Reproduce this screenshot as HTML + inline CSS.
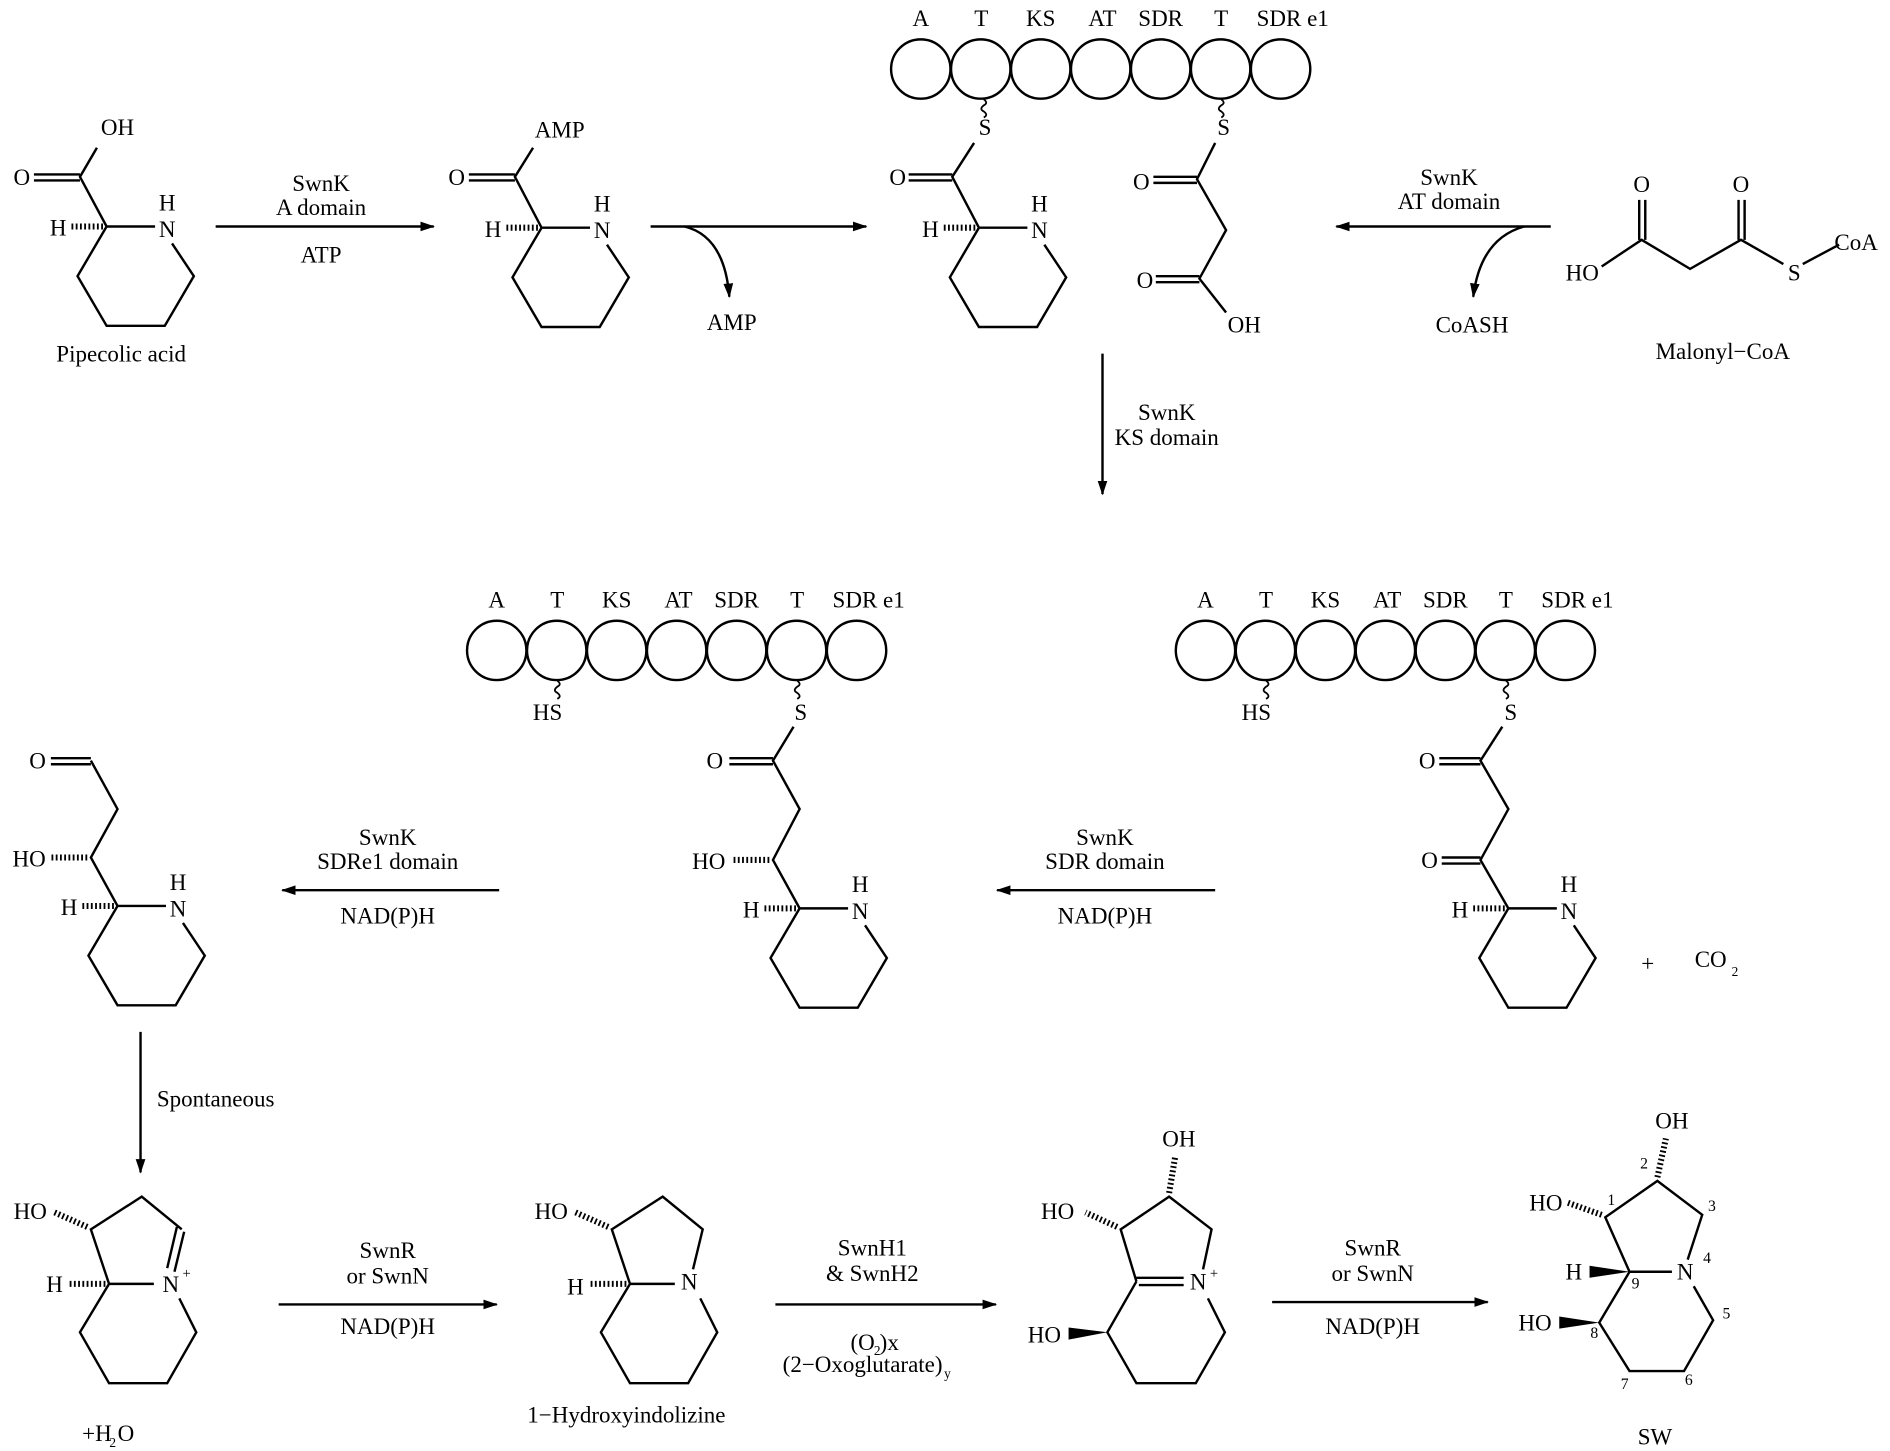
<!DOCTYPE html>
<html><head><meta charset="utf-8"><style>
html,body{margin:0;padding:0;background:#fff}
svg{display:block}
text{font-family:"Liberation Serif",serif;font-size:19px;fill:#000;text-anchor:middle;dominant-baseline:central}
.b{stroke:#000;stroke-width:2;fill:none}
.h{stroke:#000;stroke-width:5;stroke-dasharray:1.5,2;fill:none}
.c{stroke:#000;stroke-width:2;fill:none}
</style></head><body>
<svg width="1890" height="1451" viewBox="0 0 1560 1198" preserveAspectRatio="none">
<defs>
<marker id="ar" viewBox="0 0 12 8" refX="11" refY="4" markerWidth="12" markerHeight="8" markerUnits="userSpaceOnUse" orient="auto"><path d="M0,0 L12,4 L0,8 Z"/></marker>
<g id="pip">
<path class="b" d="M0,0 L40,0 M54,14 L72,41 L48,82 L0,82 L-24,41 L0,0"/>
<line class="h" x1="-3" y1="0" x2="-30" y2="0"/>
<text x="-40" y="1">H</text>
<text x="50" y="2">N</text>
<text x="50" y="-20">H</text>
</g>
<g id="circ">
<circle class="c" cx="0" cy="0" r="24.5"/><circle class="c" cx="49.5" cy="0" r="24.5"/><circle class="c" cx="99" cy="0" r="24.5"/><circle class="c" cx="148.5" cy="0" r="24.5"/><circle class="c" cx="198" cy="0" r="24.5"/><circle class="c" cx="247.5" cy="0" r="24.5"/><circle class="c" cx="297" cy="0" r="24.5"/>
<text x="0" y="-42">A</text><text x="50" y="-42">T</text><text x="99" y="-42">KS</text><text x="150" y="-42">AT</text><text x="198" y="-42">SDR</text><text x="248" y="-42">T</text><text x="307" y="-42">SDR e1</text>
</g>
<path id="wv" class="b" d="M0,0 q4,3 0,5 q-4,3 0,5 q4,3 0,5" style="stroke-width:1.5"/>
</defs>

<use href="#pip" x="88" y="187"/>
<path class="b" d="M88,187 L66,146 L80,122 M66,144 L28,144 M66,149 L28,149"/>
<text x="18" y="146">O</text><text x="97" y="105">OH</text>
<text x="100" y="292">Pipecolic acid</text>

<line class="b" x1="178" y1="187" x2="358" y2="187" marker-end="url(#ar)"/>
<text x="265" y="151">SwnK</text><text x="265" y="171">A domain</text><text x="265" y="210">ATP</text>

<use href="#pip" x="447" y="188"/>
<path class="b" d="M447,188 L425,146 L440,122 M425,144 L387,144 M425,149 L387,149"/>
<text x="377" y="146">O</text><text x="462" y="107">AMP</text>

<line class="b" x1="537" y1="187" x2="715" y2="187" marker-end="url(#ar)"/>
<path class="b" d="M565,187 Q598,195 602,245" marker-end="url(#ar)"/>
<text x="604" y="266">AMP</text>

<use href="#circ" x="760" y="57"/>
<use href="#wv" x="812" y="82"/>
<use href="#wv" x="1008" y="82"/>
<text x="813" y="105">S</text><text x="1010" y="105">S</text>
<use href="#pip" x="808" y="188"/>
<path class="b" d="M808,188 L786,146 L804,118 M786,144 L750,144 M786,149 L750,149"/>
<text x="741" y="146">O</text>
<path class="b" d="M1003,118 L988,148 L1012,190 L990,230 L1012,258 M988,146 L952,146 M988,151 L952,151 M990,228 L954,228 M990,233 L954,233"/>
<text x="942" y="150">O</text><text x="945" y="231">O</text><text x="1027" y="268">OH</text>

<line class="b" x1="1280" y1="187" x2="1103" y2="187" marker-end="url(#ar)"/>
<path class="b" d="M1258,187 Q1222,197 1216,245" marker-end="url(#ar)"/>
<text x="1196" y="146">SwnK</text><text x="1196" y="166">AT domain</text>
<text x="1215" y="268">CoASH</text>

<path class="b" d="M1322,220 L1355,198 L1395,222 L1437,198 L1472,218 M1353,198 L1353,165 M1358,198 L1358,165 M1435,198 L1435,165 M1440,198 L1440,165 M1488,218 L1518,202"/>
<text x="1355" y="152">O</text><text x="1437" y="152">O</text>
<text x="1306" y="225">HO</text><text x="1481" y="225">S</text><text x="1532" y="200">CoA</text>
<text x="1422" y="290">Malonyl−CoA</text>

<line class="b" x1="910" y1="292" x2="910" y2="408" marker-end="url(#ar)"/>
<text x="963" y="340">SwnK</text><text x="963" y="361">KS domain</text>

<use href="#circ" x="410" y="537"/>
<use href="#circ" x="995" y="537"/>
<use href="#wv" x="460" y="562"/><use href="#wv" x="658" y="562"/>
<use href="#wv" x="1045" y="562"/><use href="#wv" x="1243" y="562"/>
<text x="452" y="588">HS</text><text x="661" y="588">S</text>
<text x="1037" y="588">HS</text><text x="1247" y="588">S</text>

<path class="b" d="M1240,600 L1222,628 L1245,668 L1222,710 L1245,750 M1222,626 L1188,626 M1222,631 L1188,631 M1222,708 L1190,708 M1222,713 L1190,713"/>
<text x="1178" y="628">O</text><text x="1180" y="710">O</text>
<use href="#pip" x="1245" y="750"/>
<text x="1360" y="795">+</text><text x="1412" y="792">CO</text><text x="1432" y="802" style="font-size:11px">2</text>

<line class="b" x1="1003" y1="735" x2="823" y2="735" marker-end="url(#ar)"/>
<text x="912" y="691">SwnK</text><text x="912" y="711">SDR domain</text><text x="912" y="756">NAD(P)H</text>

<path class="b" d="M655,600 L638,628 L660,668 L638,710 L660,750 M638,626 L602,626 M638,631 L602,631"/>
<line class="h" x1="635" y1="710" x2="605" y2="710"/>
<text x="590" y="628">O</text><text x="585" y="711">HO</text>
<use href="#pip" x="660" y="750"/>

<line class="b" x1="412" y1="735" x2="233" y2="735" marker-end="url(#ar)"/>
<text x="320" y="691">SwnK</text><text x="320" y="711">SDRe1 domain</text><text x="320" y="756">NAD(P)H</text>

<path class="b" d="M75,628 L97,668 L75,708 L97,748 M75,626 L42,626 M75,631 L42,631"/>
<line class="h" x1="72" y1="708" x2="42" y2="708"/>
<text x="31" y="628">O</text><text x="24" y="709">HO</text>
<use href="#pip" x="97" y="748"/>

<line class="b" x1="116" y1="852" x2="116" y2="968" marker-end="url(#ar)"/>
<text x="178" y="907">Spontaneous</text>

<path class="b" d="M90,1060 L75,1015 L117,988 L150,1015 M146,1013 L138,1047 M152,1017 L144,1050 M90,1060 L127,1060 M148,1072 L162,1100 L138,1142 L90,1142 L66,1100 L90,1060"/>
<line class="h" x1="72" y1="1013" x2="45" y2="1001"/>
<line class="h" x1="87" y1="1060" x2="57" y2="1060"/>
<text x="25" y="1000">HO</text><text x="45" y="1060">H</text>
<text x="141" y="1060">N</text><text x="154" y="1052" style="font-size:12px">+</text>
<text x="80" y="1183">+H</text><text x="93" y="1191" style="font-size:11px">2</text><text x="104" y="1183">O</text>

<line class="b" x1="230" y1="1077" x2="410" y2="1077" marker-end="url(#ar)"/>
<text x="320" y="1032">SwnR</text><text x="320" y="1053">or SwnN</text><text x="320" y="1095">NAD(P)H</text>

<path class="b" d="M520,1060 L505,1015 L547,988 L580,1015 L572,1048 M520,1060 L557,1060 M578,1072 L592,1100 L568,1142 L520,1142 L496,1100 L520,1060"/>
<line class="h" x1="502" y1="1013" x2="475" y2="1001"/>
<line class="h" x1="517" y1="1060" x2="487" y2="1060"/>
<text x="455" y="1000">HO</text><text x="475" y="1062">H</text>
<text x="569" y="1058">N</text>
<text x="517" y="1168">1−Hydroxyindolizine</text>

<line class="b" x1="640" y1="1077" x2="822" y2="1077" marker-end="url(#ar)"/>
<text x="720" y="1030">SwnH1</text><text x="720" y="1051">&amp; SwnH2</text>
<text x="712" y="1108">(O</text><text x="724" y="1115" style="font-size:11px">2</text><text x="734" y="1108">)x</text>
<text x="712" y="1126">(2−Oxoglutarate)</text><text x="782" y="1134" style="font-size:11px">y</text>

<path class="b" d="M938,1058 L925,1015 L965,988 L1000,1015 L993,1048 M938,1055 L977,1055 M940,1061 L977,1061 M997,1072 L1011,1100 L987,1142 L938,1142 L914,1100 L938,1058"/>
<line class="h" x1="922" y1="1013" x2="896" y2="1001"/>
<line class="h" x1="965" y1="985" x2="970" y2="955"/>
<polygon points="914,1100 882,1096 882,1106"/>
<text x="873" y="1000">HO</text><text x="973" y="940">OH</text><text x="862" y="1102">HO</text>
<text x="989" y="1058">N</text><text x="1002" y="1052" style="font-size:12px">+</text>

<line class="b" x1="1050" y1="1075" x2="1228" y2="1075" marker-end="url(#ar)"/>
<text x="1133" y="1030">SwnR</text><text x="1133" y="1051">or SwnN</text><text x="1133" y="1095">NAD(P)H</text>

<path class="b" d="M1345,1050 L1325,1005 L1368,975 L1405,1003 L1393,1040 M1345,1050 L1380,1050 M1398,1062 L1414,1090 L1390,1132 L1345,1132 L1320,1092 L1345,1050"/>
<line class="h" x1="1322" y1="1003" x2="1294" y2="993"/>
<line class="h" x1="1368" y1="972" x2="1375" y2="940"/>
<polygon points="1345,1050 1312,1045 1312,1055"/>
<polygon points="1320,1092 1287,1087 1287,1097"/>
<text x="1276" y="993">HO</text><text x="1380" y="925">OH</text>
<text x="1299" y="1050">H</text><text x="1267" y="1092">HO</text>
<text x="1391" y="1050">N</text>
<text x="1330" y="991" style="font-size:13px">1</text><text x="1357" y="961" style="font-size:13px">2</text><text x="1413" y="996" style="font-size:13px">3</text><text x="1409" y="1039" style="font-size:13px">4</text><text x="1425" y="1085" style="font-size:13px">5</text><text x="1394" y="1140" style="font-size:13px">6</text><text x="1341" y="1143" style="font-size:13px">7</text><text x="1316" y="1101" style="font-size:13px">8</text><text x="1350" y="1060" style="font-size:13px">9</text>
<text x="1366" y="1186">SW</text>
</svg>
</body></html>
